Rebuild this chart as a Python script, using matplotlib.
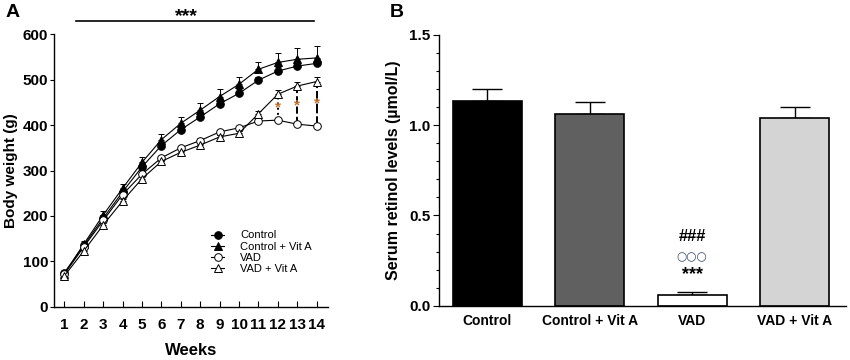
import matplotlib
matplotlib.use("Agg")
import matplotlib.pyplot as plt
import numpy as np

plt.rcParams["font.family"] = ["Liberation Sans", "DejaVu Sans"]

# ─── Panel A: body weight ────────────────────────────────────────────────────
weeks = np.arange(1, 15)
ctrl       = [75, 135, 195, 253, 308, 355, 390, 418, 447, 470, 499, 519, 530, 536]
ctrl_err   = [4, 5, 6, 7, 8, 8, 8, 8, 8, 9, 8, 8, 8, 9]
ctrl_va    = [73, 138, 202, 261, 318, 368, 404, 433, 463, 490, 523, 538, 545, 548]
ctrl_va_err = [4, 6, 8, 10, 12, 12, 14, 15, 16, 16, 15, 21, 24, 26]
vad        = [72, 132, 190, 247, 292, 328, 350, 366, 385, 394, 409, 411, 402, 398]
vad_err    = [3, 4, 5, 5, 5, 5, 5, 5, 5, 5, 5, 5, 4, 4]
vad_va     = [68, 123, 180, 233, 282, 320, 340, 356, 374, 382, 425, 468, 486, 496]
vad_va_err = [3, 4, 5, 5, 5, 5, 5, 5, 5, 5, 6, 10, 10, 10]
star_weeks = [12, 13, 14]
star_styles = [":", "--", (0, (5, 1.5))]

# ─── Panel B: serum retinol ──────────────────────────────────────────────────
groups = ["Control", "Control + Vit A", "VAD", "VAD + Vit A"]
retinol = [1.134, 1.062, 0.061, 1.042]
retinol_err = [0.065, 0.066, 0.013, 0.057]
bar_colors = ["#000000", "#606060", "#ffffff", "#d4d4d4"]

fig = plt.figure(figsize=(8.5, 3.6), dpi=100)

# ── A ──
ax = fig.add_axes([0.0639, 0.148, 0.3216, 0.7567])
series = [
    (ctrl, ctrl_err, "o", "black", "Control"),
    (ctrl_va, ctrl_va_err, "^", "black", "Control + Vit A"),
    (vad, vad_err, "o", "white", "VAD"),
    (vad_va, vad_va_err, "^", "white", "VAD + Vit A"),
]
handles = []
for vals, err, mk, fc, lab in series:
    ax.errorbar(weeks, vals, yerr=[np.zeros(len(err)), err], fmt="none",
                ecolor="black", elinewidth=0.7, capsize=2.2, capthick=0.7, zorder=2)
    h, = ax.plot(weeks, vals, color="black", lw=0.8, marker=mk, markersize=5.5,
                 markerfacecolor=fc, markeredgecolor="black", markeredgewidth=0.7,
                 label=lab, zorder=3)
    handles.append(h)

for w, ls in zip(star_weeks, star_styles):
    i = w - 1
    ax.plot([w, w], [vad[i], vad_va[i]], color="black", lw=1.4, ls=ls, zorder=1)
    ax.text(w, (vad[i] + vad_va[i]) / 2, "*", color="#c0702a", ha="center",
            va="center", fontsize=11, fontweight="bold", zorder=4)

ax.set_xlim(0.48, 14.57)
ax.set_ylim(0, 600)
ax.set_xticks(weeks)
ax.set_yticks(range(0, 601, 100))
ax.tick_params(axis="x", direction="in", length=4, width=0.8, labelsize=11, pad=8)
ax.tick_params(axis="y", direction="out", length=3, width=0.8, labelsize=11, pad=1.5)
for lbl in ax.get_xticklabels() + ax.get_yticklabels():
    lbl.set_fontweight("bold")
for s in ["top", "right"]:
    ax.spines[s].set_visible(False)
for s in ["left", "bottom"]:
    ax.spines[s].set_linewidth(1.0)
ax.set_xlabel("Weeks", fontsize=12, fontweight="bold", labelpad=8)
ax.set_ylabel("Body weight (g)", fontsize=11, fontweight="bold", labelpad=3)
ax.legend(handles=handles, loc="upper left", bbox_to_anchor=(0.575, 0.28),
          frameon=False, fontsize=8, handlelength=1.1, handletextpad=1.5,
          labelspacing=0.1, borderaxespad=0, borderpad=0)

# significance bar on top
ax.plot([1.6, 13.87], [630, 630], color="black", lw=1.2, clip_on=False)
ax.text(7.3, 640, "***", ha="center", va="center", fontsize=14, fontweight="bold")
fig.text(0.006, 0.965, "A", fontsize=14, fontweight="bold", va="center")

# ── B ──
bx = fig.add_axes([0.5165, 0.1508, 0.4788, 0.752])
xpos = np.arange(len(groups))
bx.bar(xpos, retinol, width=0.67, color=bar_colors, edgecolor="black", linewidth=1.2,
       zorder=2)
bx.errorbar(xpos, retinol, yerr=[np.zeros(len(retinol_err)), retinol_err], fmt="none",
            ecolor="black", elinewidth=1.0, capsize=11, capthick=1.0, zorder=1)
bx.set_xlim(-0.47, 3.5)
bx.set_ylim(0, 1.5)
bx.set_xticks(xpos)
bx.set_xticklabels(groups, fontsize=10, fontweight="bold")
bx.set_yticks([0, 0.5, 1.0, 1.5])
bx.set_yticklabels(["0.0", "0.5", "1.0", "1.5"], fontsize=11, fontweight="bold")
bx.set_yticks(np.arange(0, 1.51, 0.1), minor=True)
bx.tick_params(axis="x", length=0, pad=6)
bx.tick_params(axis="y", which="major", direction="out", length=4, width=0.8, pad=2)
bx.tick_params(axis="y", which="minor", direction="out", length=2.5, width=0.8)
for s in ["top", "right"]:
    bx.spines[s].set_visible(False)
for s in ["left", "bottom"]:
    bx.spines[s].set_linewidth(1.0)
bx.set_ylabel("Serum retinol levels (\u00b5mol/L)", fontsize=11.5, fontweight="bold",
              labelpad=6)

bx.text(2, 0.386, "###", ha="center", va="center", fontsize=12, fontweight="bold")
bx.text(2, 0.272, "\u25cb\u25cb\u25cb", ha="center", va="center", fontsize=8.5,
        color="#3a4a6a", family="DejaVu Sans")
bx.text(2, 0.175, "***", ha="center", va="center", fontsize=13, fontweight="bold")
fig.text(0.459, 0.965, "B", fontsize=14, fontweight="bold", va="center")

fig.savefig("out.png", dpi=100)
